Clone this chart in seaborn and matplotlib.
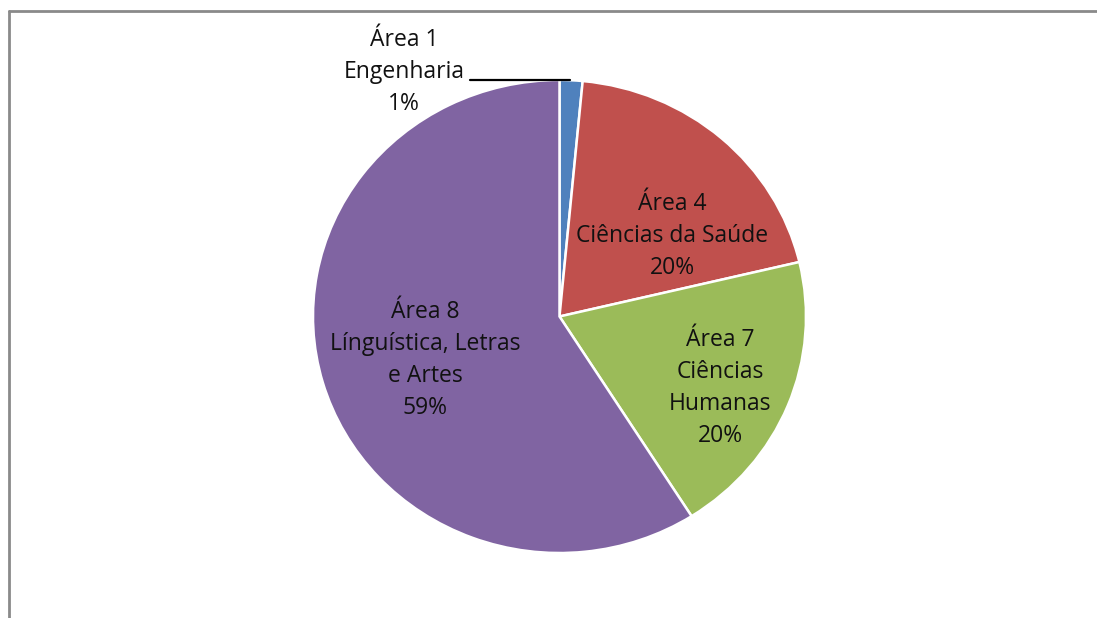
import matplotlib
matplotlib.use("Agg")
import matplotlib.pyplot as plt
import seaborn as sns
from matplotlib.lines import Line2D

categories = ["Área 1\nEngenharia", "Área 4\nCiências da Saúde", "Área 7\nCiências\nHumanas",
              "Área 8\nLínguística, Letras\ne Artes"]
values = [1.5, 19.8, 19.7, 59.0]
pct_labels = ["1%", "20%", "20%", "59%"]
colors = ["#4F81BD", "#C0504D", "#9BBB59", "#8064A2"]

sns.set_theme(style="white")
plt.rcParams["font.family"] = ["Open Sans", "DejaVu Sans"]

W, H = 1097, 618
fig = plt.figure(figsize=(W / 100, H / 100), dpi=100)
cx, cy, rx, ry = 559.5, 316.5, 246.5, 236.5
ax = fig.add_axes([(cx - rx) / W, (H - cy - ry) / H, 2 * rx / W, 2 * ry / H])

wedges, _ = ax.pie(values, colors=colors, startangle=90, counterclock=False,
                   wedgeprops=dict(edgecolor="white", linewidth=1.8))
ax.set_aspect("auto")
ax.set_xlim(-1, 1)
ax.set_ylim(-1, 1)
ax.axis("off")

def px(x, y):
    return ((x - cx) / rx, (cy - y) / ry)

label_pos = [(404, 72), (672, 236), (720, 388), (425, 360)]
for cat, pct, (lx, ly) in zip(categories, pct_labels, label_pos):
    ax.text(*px(lx, ly), f"{cat}\n{pct}", ha="center", va="center",
            fontsize=16.5, linespacing=1.45, color="#111111")

# leader line for the small slice
x0, y0 = px(470, 80)
x1, y1 = px(570, 80)
ax.plot([x0, x1], [y0, y1], color="black", lw=1.6, clip_on=False)

# outer frame (top and left visible)
fig.add_artist(Line2D([9 / W, 1], [1 - 11 / H, 1 - 11 / H], color="#8a8a8a", lw=2,
                      transform=fig.transFigure))
fig.add_artist(Line2D([9 / W, 9 / W], [0, 1 - 11 / H], color="#8a8a8a", lw=2,
                      transform=fig.transFigure))

fig.savefig("out.png", dpi=100, facecolor="white")
